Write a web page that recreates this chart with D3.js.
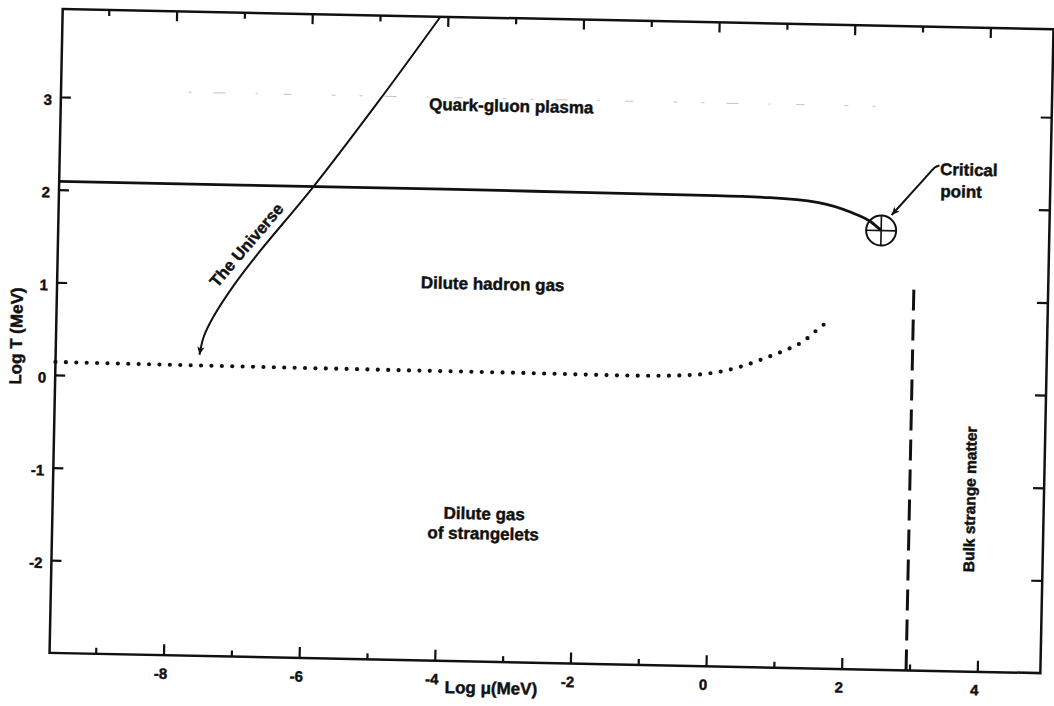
<!DOCTYPE html>
<html>
<head>
<meta charset="utf-8">
<script src="https://cdn.jsdelivr.net/npm/d3@7"></script>
<style>
body { margin: 0; background: #fff; }
text { font-family: "Liberation Sans", Arial, Helvetica, sans-serif; font-weight: bold; fill: #111; stroke: #111; stroke-width: 0.45px; }
</style>
</head>
<body>
<svg id="chart" width="1054" height="706"></svg>
<script>
// phase boundary quark-gluon plasma / hadron gas (log mu, log T)
const phaseMu = [-9.68, -7, -4, -2, 0, 0.8, 1.5, 2.0, 2.3, 2.45];
const phaseT  = [2.09, 2.09, 2.09, 2.085, 2.08, 2.07, 2.03, 1.93, 1.83, 1.74];

// critical point
const critMu = 2.45;
const critT = 1.74;

// trajectory of the universe
const universeMu = [-4.11, -5.0, -5.95, -6.7, -7.08, -7.36, -7.50, -7.56];
const universeT  = [3.95, 3.02, 2.07, 1.38, 1.0, 0.67, 0.45, 0.25];

// dotted boundary: dilute hadron gas / dilute gas of strangelets
const dottedMu = [-9.68, -6, -3, -1.2, -0.3, 0.17, 0.46, 0.75, 1.05, 1.34, 1.53, 1.68];
const dottedT  = [0.14, 0.13, 0.125, 0.12, 0.14, 0.19, 0.25, 0.33, 0.42, 0.53, 0.65, 0.74];

// dashed boundary of bulk strange matter
const bulkMu = [2.95, 2.95];
const bulkT  = [1.11, -3];

// faint rule left over from the scan
const ghostMu = [-7.8, 2.6];
const ghostT  = [3.08, 3.08];

const xMajor = [-8, -6, -4, -2, 0, 2, 4];
const xMinor = [-9, -7, -5, -3, -1, 1, 3];
const yTicks = [-2, -1, 0, 1, 2, 3];

const W = 991, H = 644;

const svg = d3.select('#chart');
// the scanned page sits a little crooked
const g = svg.append('g').attr('transform', 'translate(62.7,9) rotate(1.17)');

const x = d3.scaleLinear().domain([-9.68, 4.93]).range([0, W]);
const y = d3.scaleLinear().domain([-3, 3.95]).range([H, 0]);

const defs = svg.append('defs');
defs.append('marker')
    .attr('id', 'arrow')
    .attr('viewBox', '0 0 10 10')
    .attr('refX', 10)
    .attr('refY', 5)
    .attr('markerWidth', 12)
    .attr('markerHeight', 8)
    .attr('markerUnits', 'userSpaceOnUse')
    .attr('orient', 'auto')
  .append('path')
    .attr('d', 'M0,0.5 L10,5 L0,9.5 L2.5,5 Z')
    .attr('fill', '#111');

function tidy(sel, size) {
    sel.select('.domain').remove();
    sel.selectAll('line').attr('stroke', '#111').attr('stroke-width', 2.2);
    sel.attr('font-size', size).attr('font-family', null);
}

// bottom axis
g.append('g')
    .attr('transform', `translate(0,${H})`)
    .call(d3.axisBottom(x).tickValues(xMajor).tickSize(-11).tickPadding(13).tickFormat(d => String(d)))
    .call(s => tidy(s, 15))
    .call(s => s.selectAll('text').attr('dx', '-0.2em'));
g.append('g')
    .attr('transform', `translate(0,${H})`)
    .call(d3.axisBottom(x).tickValues(xMinor).tickSize(-6).tickFormat(''))
    .call(s => tidy(s, 15));

// top axis, ticks only
g.append('g')
    .call(d3.axisTop(x).tickValues(xMajor.filter(d => d < 4.9)).tickSize(-10).tickFormat(''))
    .call(s => tidy(s, 15));
g.append('g')
    .call(d3.axisTop(x).tickValues(xMinor).tickSize(-6).tickFormat(''))
    .call(s => tidy(s, 15));

// left axis
g.append('g')
    .call(d3.axisLeft(y).tickValues(yTicks).tickSize(-10).tickPadding(9).tickFormat(d => String(d)))
    .call(s => tidy(s, 15))
    .call(s => s.selectAll('text').attr('dy', '0.5em'));

// right axis, ticks only
g.append('g')
    .attr('transform', `translate(${W},0)`)
    .call(d3.axisRight(y).tickValues(yTicks).tickSize(-11).tickFormat(''))
    .call(s => tidy(s, 15));

// frame
g.append('rect')
    .attr('x', 0).attr('y', 0)
    .attr('width', W).attr('height', H)
    .attr('fill', 'none')
    .attr('stroke', '#111')
    .attr('stroke-width', 2.5);

// axis titles
g.append('text')
    .attr('transform', 'translate(-34,328) rotate(-90)')
    .attr('text-anchor', 'middle')
    .attr('font-size', 17)
    .text('Log T (MeV)');
g.append('text')
    .attr('x', 442).attr('y', 676)
    .attr('text-anchor', 'middle')
    .attr('font-size', 17)
    .text('Log \u03bc(MeV)');

const line = d3.line().x(d => x(d[0])).y(d => y(d[1]));

g.append('path')
    .datum(d3.zip(ghostMu, ghostT))
    .attr('d', line)
    .attr('fill', 'none')
    .attr('stroke', '#c2c2c2')
    .attr('stroke-width', 1)
    .attr('stroke-dasharray', '3 22 12 30 2 26 8 40 4 24');

g.append('path')
    .datum(d3.zip(phaseMu, phaseT))
    .attr('d', line.curve(d3.curveMonotoneX))
    .attr('fill', 'none')
    .attr('stroke', '#111')
    .attr('stroke-width', 2.8);

g.append('path')
    .datum(d3.zip(dottedMu, dottedT))
    .attr('d', line.curve(d3.curveMonotoneX))
    .attr('fill', 'none')
    .attr('stroke', '#111')
    .attr('stroke-width', 4.2)
    .attr('stroke-linecap', 'round')
    .attr('stroke-dasharray', '0 10.4');

g.append('path')
    .datum(d3.zip(bulkMu, bulkT))
    .attr('d', line.curve(d3.curveLinear))
    .attr('fill', 'none')
    .attr('stroke', '#111')
    .attr('stroke-width', 3)
    .attr('stroke-dasharray', '21 9');

g.append('path')
    .datum(d3.zip(universeMu, universeT))
    .attr('d', line.curve(d3.curveCatmullRom))
    .attr('fill', 'none')
    .attr('stroke', '#111')
    .attr('stroke-width', 2)
    .attr('marker-end', 'url(#arrow)');

// critical point with cross hairs
const cx = x(critMu), cy = y(critT), r = 15;
g.append('circle')
    .attr('cx', cx).attr('cy', cy).attr('r', r)
    .attr('fill', 'none').attr('stroke', '#111').attr('stroke-width', 2);
g.append('line')
    .attr('x1', cx - r).attr('x2', cx + r).attr('y1', cy).attr('y2', cy)
    .attr('stroke', '#111').attr('stroke-width', 1.6);
g.append('line')
    .attr('x1', cx).attr('x2', cx).attr('y1', cy - r).attr('y2', cy + r)
    .attr('stroke', '#111').attr('stroke-width', 1.6);

// pointer from the label to the critical point
g.append('path')
    .datum([[3.29, 2.455], [3.225, 2.44], [3.17, 2.39], [2.60, 1.91]])
    .attr('d', line.curve(d3.curveBasis))
    .attr('fill', 'none')
    .attr('stroke', '#111')
    .attr('stroke-width', 2)
    .attr('marker-end', 'url(#arrow)');

// region labels
function label(mu, t, txt, size) {
    return g.append('text')
        .attr('x', x(mu)).attr('y', y(t))
        .attr('text-anchor', 'middle')
        .attr('font-size', size)
        .text(txt);
}
label(-3.04, 2.94, 'Quark-gluon plasma', 17);
label(-3.26, 1.015, 'Dilute hadron gas', 17);
label(-3.315, -1.465, 'Dilute gas', 17);
label(-3.324, -1.68, 'of strangelets', 17);
label(3.30, 2.352, 'Critical', 17).attr('text-anchor', 'start');
label(3.31, 2.115, 'point', 17).attr('text-anchor', 'start');

g.append('text')
    .attr('transform', `translate(${x(3.92)},${y(-1.14)}) rotate(-90)`)
    .attr('text-anchor', 'middle')
    .attr('font-size', 15.5)
    .text('Bulk strange matter');

g.append('text')
    .attr('transform', `translate(${x(-6.835)},${y(1.405)}) rotate(-50.7)`)
    .attr('text-anchor', 'middle')
    .attr('font-size', 16.5)
    .text('The Universe');
</script>
</body>
</html>
